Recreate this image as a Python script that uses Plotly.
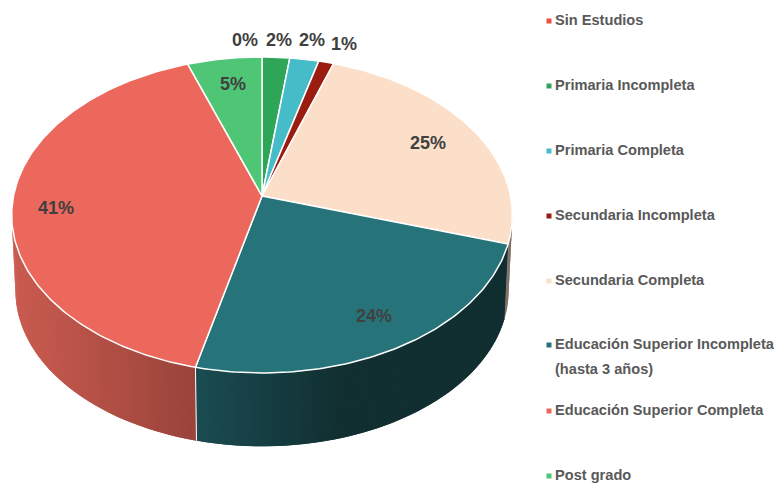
"""Torta 3D del nivel educativo, dibujada con trazas Scatter para conservar la perspectiva."""

import numpy as np
import plotly.graph_objects as go

# Datos
CATEGORIES = [
    "Sin Estudios",
    "Primaria Incompleta",
    "Primaria Completa",
    "Secundaria Incompleta",
    "Secundaria Completa",
    "Educación Superior Incompleta<br>(hasta 3 años)",
    "Educación Superior Completa",
    "Post grado",
]
VALUES = [0.0, 2.0, 2.1, 1.1, 24.6, 24.0, 40.8, 5.4]

# Colores
TOP_COLORS = ["#ef4b3e", "#2ea557", "#46bcc8", "#9b1c10", "#fbdfc9", "#26747a", "#ec685c", "#4fc675"]
WALL_LEFT = {4: "#8a7a6c", 5: "#1a4c52", 6: "#ca5b50"}
WALL_RIGHT = {4: "#6b5d52", 5: "#112f31", 6: "#99433a"}
COLOR_LABEL = "#404040"
COLOR_LEGEND = "#595959"
FONT = "Liberation Sans"

# Geometría de la perspectiva (píxeles)
CX, CY, RX, RY, PERSP = 262, 196, 248.5, 155.7, 0.12
WALL_CY, WALL_SCALE = 272, 0.985

# Posición de los textos
LABEL_X = [245, 279, 312, 344, 428, 374, 56, 233]
LABEL_Y = [41, 41, 41, 45, 144, 317, 209, 85]
LEGEND_Y = [21, 86, 151, 216, 281, 345, 411, 476]
LEGEND_LINE_GAP = 25


def project(theta, cy=CY, scale=1.0):
    """Proyecta un ángulo (radianes, horario desde arriba) sobre el borde de la torta."""
    u, v = np.sin(theta), np.cos(theta)
    d = 1 + PERSP * v
    return CX + scale * RX * u / d, cy - scale * RY * v / d


def mix(c1, c2, t):
    a = [int(c1[i:i + 2], 16) for i in (1, 3, 5)]
    b = [int(c2[i:i + 2], 16) for i in (1, 3, 5)]
    return "rgb({},{},{})".format(*[round(p + (q - p) * t) for p, q in zip(a, b)])


edges = np.cumsum([0] + VALUES) / sum(VALUES) * 2 * np.pi
fig = go.Figure()

# Pared lateral: franjas que se solapan para simular el degradado sin costuras
left_tangent = 2 * np.pi - np.arccos(-PERSP)
right_tangent = np.arccos(-PERSP)
for i in (4, 5, 6):
    start = max(edges[i], right_tangent)
    end = min(edges[i + 1], left_tangent)
    steps = np.linspace(start, end, max(2, int(np.degrees(end - start)) + 1))
    x_right, _ = project(start)
    x_left, _ = project(end)
    for j in range(len(steps) - 1):
        th = np.array([steps[max(j - 1, 0)], steps[j], steps[j + 1]])
        xt, yt = project(th)
        xb, yb = project(th[::-1], WALL_CY, WALL_SCALE)
        t = (xt[1] - x_left) / (x_right - x_left)
        if i == 5:
            # el tono oscuro se estabiliza desde la mitad de la pared
            t = min(1.0, t * 2.2)
        fig.add_trace(go.Scatter(
            x=np.r_[xt, xb, xt[0]], y=np.r_[yt, yb, yt[0]],
            mode="lines", fill="toself", fillcolor=mix(WALL_LEFT[i], WALL_RIGHT[i], t),
            line=dict(width=0), hoverinfo="skip", showlegend=False,
        ))

# Separador blanco entre las paredes
x_top, y_top = project(edges[6])
x_bot, y_bot = project(edges[6], WALL_CY, WALL_SCALE)
fig.add_trace(go.Scatter(
    x=[x_top, x_bot], y=[y_top, y_bot], mode="lines",
    line=dict(color="white", width=1), hoverinfo="skip", showlegend=False,
))

# Cara superior
for i, value in enumerate(VALUES):
    if value == 0:
        continue
    th = np.linspace(edges[i], edges[i + 1], max(3, int(value * 4)))
    xs, ys = project(th)
    fig.add_trace(go.Scatter(
        x=np.r_[CX, xs, CX], y=np.r_[CY, ys, CY],
        mode="lines", fill="toself", fillcolor=TOP_COLORS[i],
        line=dict(color="white", width=1.5), hoverinfo="skip", showlegend=False,
    ))

# Porcentajes
fig.add_trace(go.Scatter(
    x=LABEL_X, y=LABEL_Y, mode="text",
    text=[f"{v:.0f}%" for v in VALUES],
    textposition="middle center",
    textfont=dict(family=FONT, size=18, color=COLOR_LABEL, weight="bold"),
    hoverinfo="skip", showlegend=False,
))

# Leyenda: cada renglón va aparte para respetar su interlineado
fig.add_trace(go.Scatter(
    x=[549] * len(CATEGORIES), y=LEGEND_Y, mode="markers",
    marker=dict(symbol="square", size=5, color=TOP_COLORS),
    hoverinfo="skip", showlegend=False,
))
legend_text, legend_text_y = [], []
for name, y in zip(CATEGORIES, LEGEND_Y):
    for k, line in enumerate(name.split("<br>")):
        legend_text.append(line)
        legend_text_y.append(y + k * LEGEND_LINE_GAP)
fig.add_trace(go.Scatter(
    x=[555] * len(legend_text), y=legend_text_y, mode="text",
    text=legend_text,
    textposition="middle right",
    textfont=dict(family=FONT, size=14.6, color=COLOR_LEGEND, weight="bold"),
    hoverinfo="skip", showlegend=False,
))

fig.update_layout(
    width=778,
    height=485,
    margin=dict(l=0, r=0, t=0, b=0),
    paper_bgcolor="white",
    plot_bgcolor="white",
    xaxis=dict(range=[0, 778], visible=False, fixedrange=True),
    yaxis=dict(range=[485, 0], visible=False, fixedrange=True),
)

# sin margen en el body para que la figura ocupe toda la ventana
fig.write_html(
    "out.html",
    config={"displayModeBar": False},
    post_script="document.body.style.margin = '0';",
)
